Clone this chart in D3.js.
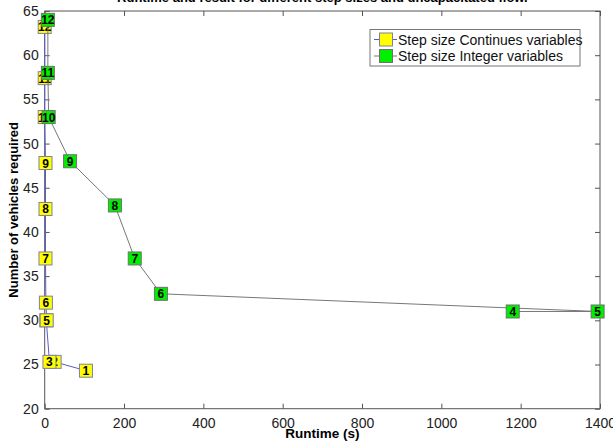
<!DOCTYPE html>
<html>
<head>
<meta charset="utf-8">
<script src="https://cdn.jsdelivr.net/npm/d3@7"></script>
<style>
html,body{margin:0;padding:0;background:#fff;}
svg{display:block;font-family:"Liberation Sans",Arial,sans-serif;}
</style>
</head>
<body>
<svg id="chart" width="613" height="441"></svg>
<script>
// Data
const contSteps = [1,2,3,4,5,6,7,8,9,10,11,12];
const contRuntime = [104,25,12,4,5,3,2,2,2,0,0,0];
const contVehicles = [24.3,25.3,25.3,30,30,32,37,42.6,47.8,53,57.4,63.2];

const intSteps = [4,5,6,7,8,9,10,11,12];
const intRuntime = [1180,1394,293,227,177,64,10,8,8];
const intVehicles = [31,31,33,37,43,48,53,58,64];

const xTicks = [0,200,400,600,800,1000,1200,1400];
const yTicks = [20,25,30,35,40,45,50,55,60,65];

const titleText = "Runtime and result for different step sizes and uncapacitated flow.";
const xLabel = "Runtime (s)";
const yLabel = "Number of vehicles required";
const legendLabels = ["Step size Continues variables","Step size Integer variables"];

const svg = d3.select("#chart");
const L = 44.7, R = 600, T = 11, B = 408.7;
const x = d3.scaleLinear().domain([0,1400]).range([L,R]);
const y = d3.scaleLinear().domain([20,65]).range([B,T]);
const axisColor = "#555";

// title (partially clipped at top)
svg.append("text").attr("x", (L+R)/2).attr("y", 1.5)
  .attr("text-anchor","middle").attr("font-weight","bold").attr("font-size",13)
  .attr("fill","#000").text(titleText);

// box
svg.append("rect").attr("x",L).attr("y",T).attr("width",R-L).attr("height",B-T)
  .attr("fill","none").attr("stroke",axisColor).attr("stroke-width",1);

// axes
const gx = svg.append("g").attr("transform",`translate(0,${B})`)
  .call(d3.axisBottom(x).tickValues(xTicks).tickSize(-5).tickPadding(9).tickFormat(d3.format("d")));
const gxt = svg.append("g").attr("transform",`translate(0,${T})`)
  .call(d3.axisTop(x).tickValues(xTicks).tickSize(-5).tickFormat(""));
const gy = svg.append("g").attr("transform",`translate(${L},0)`)
  .call(d3.axisLeft(y).tickValues(yTicks).tickSize(-5).tickPadding(6).tickFormat(d3.format("d")));
const gyr = svg.append("g").attr("transform",`translate(${R},0)`)
  .call(d3.axisRight(y).tickValues(yTicks).tickSize(-5).tickFormat(""));
[gx,gxt,gy,gyr].forEach(g=>{
  g.select(".domain").remove();
  g.selectAll(".tick line").attr("stroke",axisColor);
  g.selectAll(".tick text").attr("fill","#222").attr("font-size",14).attr("font-family","Liberation Sans, Arial, sans-serif");
});

// axis labels
svg.append("text").attr("x",(L+R)/2).attr("y",438).attr("text-anchor","middle")
  .attr("font-weight","bold").attr("font-size",13.5).text(xLabel);
svg.append("text").attr("transform",`translate(18,${(T+B)/2}) rotate(-90)`).attr("text-anchor","middle")
  .attr("font-weight","bold").attr("font-size",13).text(yLabel);

const ms = 13;
function drawSeries(steps, rt, veh, lineColor, fill, edge){
  const pts = steps.map((s,i)=>({s, x:x(rt[i]), y:y(veh[i])}));
  svg.append("path").datum(pts)
    .attr("d", d3.line().x(d=>d.x).y(d=>d.y))
    .attr("fill","none").attr("stroke",lineColor).attr("stroke-width",1);
  const g = svg.append("g");
  pts.forEach(p=>{
    g.append("rect").attr("x",p.x-ms/2).attr("y",p.y-ms/2).attr("width",ms).attr("height",ms)
      .attr("fill",fill).attr("stroke",edge).attr("stroke-width",1);
    g.append("text").attr("x",p.x).attr("y",p.y+4.5).attr("text-anchor","middle")
      .attr("font-weight","bold").attr("font-size",12).attr("fill","#000").text(p.s);
  });
}
drawSeries(contSteps, contRuntime, contVehicles, "#5a5ad0", "#ffff00", "#8080a0");
drawSeries(intSteps, intRuntime, intVehicles, "#777", "#00ee00", "#707070");

// legend
const lg = svg.append("g");
lg.append("rect").attr("x",370).attr("y",29.5).attr("width",210).attr("height",36.5)
  .attr("fill","#fff").attr("stroke","#777");
const leg = [
  {t:legendLabels[0], fill:"#ffff00", line:"#5a5ad0", edge:"#8080a0", cy:39.5},
  {t:legendLabels[1], fill:"#00ee00", line:"#777", edge:"#707070", cy:56}
];
leg.forEach(e=>{
  lg.append("line").attr("x1",374).attr("x2",397).attr("y1",e.cy).attr("y2",e.cy).attr("stroke",e.line);
  lg.append("rect").attr("x",379.5).attr("y",e.cy-6.5).attr("width",13).attr("height",13)
    .attr("fill",e.fill).attr("stroke",e.edge);
  lg.append("text").attr("x",398).attr("y",e.cy+5).attr("font-size",14).attr("fill","#111").text(e.t);
});
</script>
</body>
</html>
